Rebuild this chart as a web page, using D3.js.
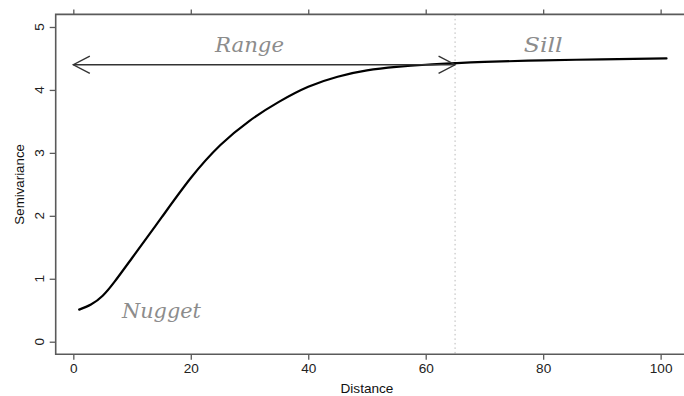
<!DOCTYPE html>
<html>
<head>
<meta charset="utf-8">
<script src="https://cdn.jsdelivr.net/npm/d3@7"></script>
<style>
  body { margin: 0; background: #fff; }
  svg { display: block; }
  .axis text { font-family: "Liberation Sans", Arial, sans-serif; }
</style>
</head>
<body>
<div id="chart"></div>
<script>
// values
const distance = [1, 3, 5, 7, 10, 15, 20, 25, 30, 35, 40, 45, 50, 55, 60, 65, 70, 80, 90, 101];
const semivariance = [0.51, 0.59, 0.73, 0.95, 1.33, 1.97, 2.6, 3.12, 3.51, 3.81, 4.05, 4.21, 4.31,
                      4.365, 4.4, 4.425, 4.445, 4.47, 4.485, 4.5];
const xTicks = [0, 20, 40, 60, 80, 100];
const yTicks = [0, 1, 2, 3, 4, 5];
const rangeValue = 65;
const sillArrowY = 4.4;
const notes = [
  {text: "Range",  x: 30, y: 4.6,  w: 69},
  {text: "Sill",   x: 80, y: 4.6,  w: 39},
  {text: "Nugget", x: 15, y: 0.38, w: 79}
];

const width = 684, height = 396;
const axisColor = "#5a5a5a";

const svg = d3.select("#chart").append("svg")
    .attr("width", width)
    .attr("height", height);

// R style: xlim 1..101 padded 4%, ylim 0..5 padded 4%
const x = d3.scaleLinear().domain([-3, 105]).range([55.7, 690]);
const y = d3.scaleLinear().domain([-0.2, 5.2]).range([354.3, 14.4]);

// dotted vertical line at the range
svg.append("line")
    .attr("x1", x(rangeValue)).attr("x2", x(rangeValue))
    .attr("y1", y(5.2)).attr("y2", y(-0.2))
    .attr("stroke", "#b8b8b8")
    .attr("stroke-width", 1)
    .attr("stroke-dasharray", "1.5,3");

// the curve
const pts = distance.map((d, i) => [d, semivariance[i]]);
svg.append("path")
    .datum(pts)
    .attr("fill", "none")
    .attr("stroke", "#000")
    .attr("stroke-width", 2.2)
    .attr("stroke-linecap", "round")
    .attr("d", d3.line()
        .x(d => x(d[0]))
        .y(d => y(d[1]))
        .curve(d3.curveNatural));

// double headed arrow for the range
const ay = y(sillArrowY);
const headL = 16.5, headW = 8.7;
const arrow = svg.append("g")
    .attr("stroke", "#333")
    .attr("stroke-width", 1.4)
    .attr("fill", "none");
arrow.append("line")
    .attr("x1", x(0)).attr("x2", x(rangeValue))
    .attr("y1", ay).attr("y2", ay);
arrow.append("path")
    .attr("d", `M${x(0) + headL},${ay - headW}L${x(0)},${ay}L${x(0) + headL},${ay + headW}`);
arrow.append("path")
    .attr("d", `M${x(rangeValue) - headL},${ay - headW}L${x(rangeValue)},${ay}L${x(rangeValue) - headL},${ay + headW}`);

// annotations
svg.selectAll(".note")
    .data(notes)
    .join("text")
    .attr("class", "note")
    .attr("x", d => x(d.x))
    .attr("y", d => y(d.y))
    .attr("text-anchor", "middle")
    .attr("textLength", d => d.w)
    .attr("lengthAdjust", "spacingAndGlyphs")
    .style("font-family", "'DejaVu Serif', 'Liberation Serif', serif")
    .style("font-style", "italic")
    .style("font-size", "20px")
    .style("fill", "#8c8c8c")
    .text(d => d.text);

// box (right side is outside the picture)
const box = svg.append("g")
    .attr("stroke", axisColor)
    .attr("stroke-width", 1.6)
    .attr("fill", "none");
box.append("path")
    .attr("d", `M${x(105)},${y(5.2)}H${x(-3)}V${y(-0.2)}H${x(105)}`);

// bottom axis
const xAxis = svg.append("g")
    .attr("class", "axis")
    .attr("transform", `translate(0,${y(-0.2)})`)
    .call(d3.axisBottom(x).tickValues(xTicks).tickSize(5.5).tickPadding(4));
xAxis.select(".domain").remove();
xAxis.selectAll("line").attr("stroke", axisColor).attr("stroke-width", 1.3);
xAxis.selectAll("text")
    .attr("fill", "#222")
    .style("font-size", "13.6px");

// top axis ticks, no labels
const xTop = svg.append("g")
    .attr("transform", `translate(0,${y(5.2)})`)
    .call(d3.axisTop(x).tickValues(xTicks).tickSize(5).tickFormat(""));
xTop.select(".domain").remove();
xTop.selectAll("line").attr("stroke", axisColor).attr("stroke-width", 1.3);

// left axis, labels rotated like R
const yAxis = svg.append("g")
    .attr("class", "axis")
    .attr("transform", `translate(${x(-3)},0)`)
    .call(d3.axisLeft(y).tickValues(yTicks).tickSize(6).tickFormat(""));
yAxis.select(".domain").remove();
yAxis.selectAll("line").attr("stroke", axisColor).attr("stroke-width", 1.3);

svg.append("g")
    .attr("class", "axis")
    .selectAll("text")
    .data(yTicks)
    .join("text")
    .attr("transform", d => `translate(43.8,${y(d)}) rotate(-90)`)
    .attr("text-anchor", "middle")
    .attr("fill", "#222")
    .style("font-size", "13.6px")
    .text(d => d);

// axis titles
svg.append("text")
    .attr("class", "axis")
    .attr("x", x(50))
    .attr("y", 392.5)
    .attr("text-anchor", "middle")
    .style("font-family", "'Liberation Sans', Arial, sans-serif")
    .style("font-size", "13.6px")
    .attr("fill", "#111")
    .text("Distance");

svg.append("text")
    .attr("transform", `translate(23.8,${y(2.5)}) rotate(-90)`)
    .attr("text-anchor", "middle")
    .style("font-family", "'Liberation Sans', Arial, sans-serif")
    .style("font-size", "13.3px")
    .attr("fill", "#111")
    .text("Semivariance");
</script>
</body>
</html>
